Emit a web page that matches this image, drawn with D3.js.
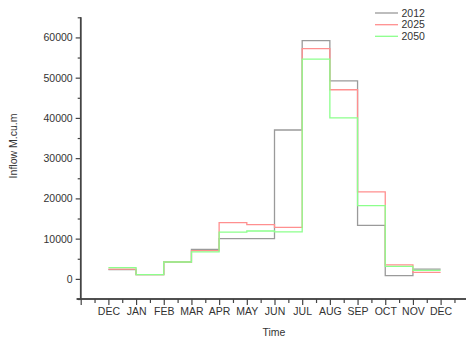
<!DOCTYPE html>
<html>
<head>
<meta charset="utf-8">
<script src="https://cdn.jsdelivr.net/npm/d3@7/dist/d3.min.js"></script>
<style>
html,body{margin:0;padding:0;background:#fff;}
svg{display:block;font-family:"Liberation Sans",Arial,sans-serif;}
</style>
</head>
<body>
<svg id="chart" width="466" height="338"></svg>
<script>
// ---- data ----
const monthLabels = ["DEC","JAN","FEB","MAR","APR","MAY","JUN","JUL","AUG","SEP","OCT","NOV","DEC"];
const seriesNames = ["2012","2025","2050"];
const seriesColors = ["#9a9a9a","#ff8f8f","#8cff8c"];
// one value per interval between consecutive month ticks (DEC-JAN ... NOV-DEC)
const values2012 = [2300, 1050, 4200, 7300, 10000, 10000, 37000, 59200, 49200, 13300, 800, 2400];
const values2025 = [2400, 1050, 4200, 7000, 14000, 13500, 12800, 57200, 47000, 21600, 3500, 1600];
const values2050 = [2800, 1050, 4200, 6700, 11600, 11900, 11700, 54600, 40000, 18200, 3100, 2100];
const yMajorTicks = [0, 10000, 20000, 30000, 40000, 50000, 60000];
const yMinorTicks = [-5000, 5000, 15000, 25000, 35000, 45000, 55000, 65000];

const allSeries = [values2012, values2025, values2050];

const svg = d3.select("#chart");
const x = d3.scaleLinear().domain([-1, 13]).range([80.7, 468.3]);
const y = d3.scaleLinear().domain([-5000, 65000]).range([299, 17.3]);

const axisColor = "#444";
const textColor = "#333";

// series step lines
const line = d3.line()
  .x(d => x(d[0]))
  .y(d => y(d[1]))
  .curve(d3.curveStepAfter);

allSeries.forEach((vals, si) => {
  const pts = vals.map((v, i) => [i, v]);
  pts.push([vals.length, vals[vals.length - 1]]);
  svg.append("path")
    .attr("d", line(pts))
    .attr("fill", "none")
    .attr("stroke", seriesColors[si])
    .attr("stroke-width", 1.3);
});

// Y axis
const yAxisMajor = d3.axisLeft(y).tickValues(yMajorTicks).tickSize(5).tickPadding(3).tickFormat(d3.format("d"));
const yAxisMinor = d3.axisLeft(y).tickValues(yMinorTicks).tickSize(3).tickFormat("");
const gy = svg.append("g").attr("transform", `translate(${x(-1)},0)`);
gy.call(yAxisMajor);
const gyMinor = svg.append("g").attr("transform", `translate(${x(-1)},0)`).call(yAxisMinor);
[gy, gyMinor].forEach(g => {
  g.select(".domain").attr("stroke", axisColor).attr("stroke-width", 1.5).attr("d", `M0,${y(-5000)}V${y(65000)}`);
  g.selectAll(".tick line").attr("stroke", axisColor).attr("stroke-width", 1.2);
  g.selectAll(".tick text").attr("fill", textColor).style("font-size", "10.5px");
});

// X axis
const xMajor = d3.range(-1, 14);
const xMinor = d3.range(-0.5, 13, 1);
const xAxisMajor = d3.axisBottom(x).tickValues(xMajor).tickSize(6).tickPadding(3)
  .tickFormat(d => (d >= 0 && d < monthLabels.length) ? monthLabels[d] : "");
const xAxisMinor = d3.axisBottom(x).tickValues(xMinor).tickSize(4).tickFormat("");
const gx = svg.append("g").attr("transform", `translate(0,${y(-5000)})`).call(xAxisMajor);
const gxMinor = svg.append("g").attr("transform", `translate(0,${y(-5000)})`).call(xAxisMinor);
[gx, gxMinor].forEach(g => {
  g.select(".domain").attr("stroke", axisColor).attr("stroke-width", 1.5).attr("d", `M${x(-1) - 4},0H${x(13)}`);
  g.selectAll(".tick line").attr("stroke", axisColor).attr("stroke-width", 1.2);
  g.selectAll(".tick text").attr("fill", textColor).style("font-size", "10.5px");
});

// axis titles
svg.append("text")
  .attr("transform", "translate(17,146) rotate(-90)")
  .attr("text-anchor", "middle")
  .attr("fill", textColor)
  .style("font-size", "10.5px")
  .text("Inflow M.cu.m");
svg.append("text")
  .attr("x", 274).attr("y", 336)
  .attr("text-anchor", "middle")
  .attr("fill", textColor)
  .style("font-size", "10.5px")
  .text("Time");

// legend
const legendY = [13, 24.7, 36.3];
seriesNames.forEach((name, i) => {
  svg.append("line")
    .attr("x1", 375).attr("x2", 398)
    .attr("y1", legendY[i]).attr("y2", legendY[i])
    .attr("stroke", seriesColors[i]).attr("stroke-width", 1.3);
  svg.append("text")
    .attr("x", 401.5).attr("y", legendY[i])
    .attr("dy", "0.35em")
    .attr("fill", textColor)
    .style("font-size", "10.5px")
    .text(name);
});
</script>
</body>
</html>
